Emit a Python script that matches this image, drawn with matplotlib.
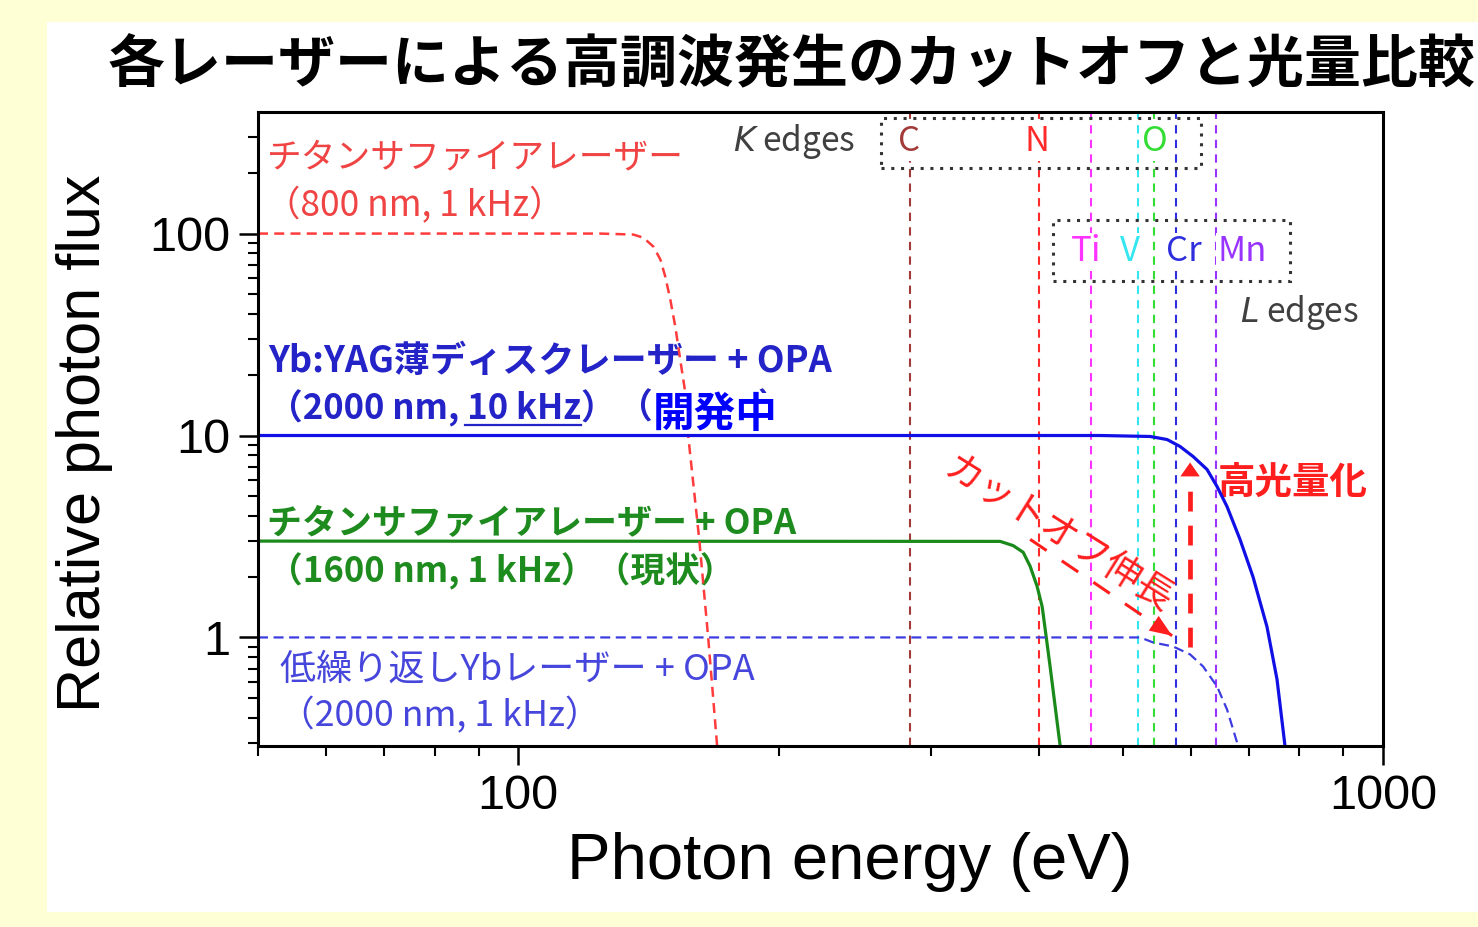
import matplotlib
matplotlib.use('Agg')
import matplotlib.pyplot as plt
from matplotlib.patches import Rectangle
from matplotlib.ticker import FixedLocator, FixedFormatter, NullFormatter

# ---------------- data ----------------
# Ti:Sapphire 800 nm, 1 kHz  (red dashed)
ti_x = [50, 124.4, 135.8, 139.5, 143.3, 146.0, 147.9, 149.9, 151.9, 153.9, 156.0, 157.2, 161.9, 165.8, 169.8]
ti_y = [100, 100, 98.9, 95.5, 86.2, 74.3, 61.2, 47.1, 34.6, 23.8, 16.3, 10, 3.06, 1.0, 0.29]
# Yb:YAG thin disk + OPA 2000 nm, 10 kHz (blue solid)
yb_x = [50, 470.9, 537.9, 562.8, 582.6, 603.1, 625.9, 642.8, 660.1, 683.3, 707.3, 734.2, 754.1, 770.3]
yb_y = [10, 10, 9.89, 9.55, 8.82, 7.87, 6.79, 5.59, 4.45, 3.06, 2.00, 1.13, 0.62, 0.29]
# Ti:Sapphire + OPA 1600 nm, 1 kHz (green solid)
opa_x = [50, 360.8, 373.5, 383.6, 390.8, 398.1, 403.5, 407.8, 412.1, 417.7, 423.3]
opa_y = [3.0, 2.99, 2.85, 2.64, 2.25, 1.79, 1.42, 1.01, 0.718, 0.455, 0.29]
# low-rep Yb + OPA 2000 nm, 1 kHz (blue dashed)
low_x = [50, 523.9, 542.3, 571.8, 598.3, 619.4, 642.8, 660.1, 678.0, 681.7]
low_y = [1, 1, 0.944, 0.902, 0.824, 0.718, 0.572, 0.440, 0.302, 0.29]

# absorption edges
edge_names = ['C', 'N', 'O', 'Ti', 'V', 'Cr', 'Mn']
edge_energy = [284, 400, 543, 460, 521, 576, 641]
edge_colors = ['#A33A3A', '#FF2A2A', '#33DD33', '#FF33FF', '#33E6F0', '#2E2EDD', '#9933FF']

# annotation arrows (data coords: start, tip)
cut_arrow = [(390.8, 3.06), (570.3, 1.02)]
flux_arrow = [(598.3, 0.90), (598.3, 7.35)]

x_ticks = [100, 1000]
x_ticklabels = ['100', '1000']
y_ticks = [1, 10, 100]
y_ticklabels = ['1', '10', '100']

title = '各レーザーによる高調波発生のカットオフと光量比較'

JP = ['Noto Sans CJK JP', 'DejaVu Sans']
plt.rcParams['font.family'] = ['Liberation Sans', 'DejaVu Sans']

W, H = 1478, 927
fig = plt.figure(figsize=(W / 100, H / 100), dpi=100, facecolor='#FFFFD6')
fig.patches.append(Rectangle((47 / W, 1 - 912 / H), 1 - 47 / W, (912 - 22) / H,
                             transform=fig.transFigure, facecolor='white',
                             edgecolor='none', zorder=-1))
ax = fig.add_axes([258 / W, 1 - 746 / H, 1125 / W, 634 / H])
ax.set_facecolor('white')
ax.set_xscale('log')
ax.set_yscale('log')

# vertical edge lines
for e, c in zip(edge_energy, edge_colors):
    ax.axvline(e, color=c, lw=1.5, dashes=(4, 3), zorder=1.5)

ax.plot(yb_x, yb_y, color='#1010E6', lw=2.3, zorder=6)
ax.plot(opa_x, opa_y, color='#1A8A1A', lw=2.3, zorder=2.5)
ax.plot(low_x, low_y, color='#3C3CE0', lw=1.6, dashes=(4.5, 2.5), zorder=2.5)
ax.plot(ti_x, ti_y, color='#FF3B3B', lw=1.8, dashes=(4, 2.5), zorder=4)

ax.set_xlim(50, 1000)
ax.set_ylim(0.29, 400)

# ticks
ax.xaxis.set_major_locator(FixedLocator(x_ticks))
ax.xaxis.set_major_formatter(FixedFormatter(x_ticklabels))
ax.xaxis.set_minor_locator(FixedLocator([50, 60, 70, 80, 90, 200, 300, 400, 500, 600, 700, 800, 900]))
ax.xaxis.set_minor_formatter(NullFormatter())
ax.yaxis.set_major_locator(FixedLocator(y_ticks))
ax.yaxis.set_major_formatter(FixedFormatter(y_ticklabels))
ax.yaxis.set_minor_locator(FixedLocator([0.3, 0.4, 0.5, 0.6, 0.7, 0.8, 0.9,
                                         2, 3, 4, 5, 6, 7, 8, 9,
                                         20, 30, 40, 50, 60, 70, 80, 90, 200, 300]))
ax.yaxis.set_minor_formatter(NullFormatter())
ax.tick_params(which='major', length=14, width=1.8, direction='out', labelsize=35, pad=6)
ax.tick_params(which='minor', length=7, width=1.5, direction='out')
for s in ax.spines.values():
    s.set_linewidth(2.2)
    s.set_zorder(7)

fig.text(850 / W, 1 - 862 / H, 'Photon energy (eV)', fontsize=47, ha='center', va='center')
fig.text(85 / W, 1 - 443 / H, 'Relative photon flux', fontsize=44, ha='center', va='center',
         rotation=90)
fig.text(108 / W, 1 - 65 / H, title, fontfamily=JP, fontweight='bold', fontsize=41,
         ha='left', va='center')


def t(x, y, s, **kw):
    kw.setdefault('fontfamily', JP)
    kw.setdefault('ha', 'left')
    kw.setdefault('va', 'center')
    return ax.text(x, y, s, transform=ax.transAxes, **kw)


red_t = '#F04444'
t(0.008, 0.9274, 'チタンサファイアレーザー', fontsize=25, color=red_t)
t(0.006, 0.8517, '（800 nm, 1 kHz）', fontsize=25.5, color=red_t)

blue_t = '#2323C8'
t(0.009, 0.6057, 'Yb:YAG薄ディスクレーザー + OPA', fontsize=26, color=blue_t, fontweight='bold')
b2 = t(0.009, 0.5331, '（2000 nm, 10 kHz）', fontsize=25, color=blue_t, fontweight='bold')
t(0.3200, 0.5331, '（', fontsize=25, color=blue_t, fontweight='bold')
t(0.4444, 0.5331, '）', fontsize=25, color=blue_t, fontweight='bold')
t(0.4062, 0.5221, '開発中', fontsize=30, color='#0000FF', fontweight='bold', ha='center',
  zorder=5, bbox=dict(facecolor='white', edgecolor='none', pad=0.5))

green_t = '#1E8B1E'
t(0.008, 0.3502, 'チタンサファイアレーザー + OPA', fontsize=25.2, color=green_t, fontweight='bold')
t(0.009, 0.276, '（1600 nm, 1 kHz）（現状）', fontsize=25, color=green_t, fontweight='bold')

lb_t = '#4646DC'
t(0.0196, 0.1199, '低繰り返しYbレーザー + OPA', fontsize=26, color=lb_t)
t(0.019, 0.0473, '（2000 nm, 1 kHz）', fontsize=25.7, color=lb_t)

# underline of "10 kHz"
renderer = fig.canvas.get_renderer()
bb_full = b2.get_window_extent(renderer)
tmp1 = t(0.009, 0.5331, '（2000 nm, 1', fontsize=25, fontweight='bold')
tmp2 = t(0.009, 0.5331, '（2000 nm, 10 kHz', fontsize=25, fontweight='bold')
tmp3 = t(0.009, 0.5331, '1', fontsize=25, fontweight='bold')
w1 = tmp1.get_window_extent(renderer).width
w2 = tmp2.get_window_extent(renderer).width
w3 = tmp3.get_window_extent(renderer).width
for tt in (tmp1, tmp2, tmp3):
    tt.remove()
inv = ax.transAxes.inverted()
xa = inv.transform((bb_full.x0 + w1 - w3 - 2, 0))[0]
xb = inv.transform((bb_full.x0 + w2, 0))[0]
yu = (746 - 425) / 634
ax.plot([xa, xb], [yu, yu], transform=ax.transAxes, color=blue_t, lw=1.6, zorder=3)

# edge labels
edge_lab_pos = {'C': (0.5787, 0.9527), 'N': (0.6924, 0.9527), 'O': (0.7973, 0.9527),
                'Ti': (0.736, 0.7792), 'V': (0.7751, 0.7792), 'Cr': (0.8231, 0.7792),
                'Mn': (0.8747, 0.7792)}
for n, c in zip(edge_names, edge_colors):
    x, y = edge_lab_pos[n]
    t(x, y, n, fontsize=25, color=c, ha='center', zorder=3.5,
      bbox=dict(facecolor='white', edgecolor='none', pad=1.0))

gray = '#404040'
t(0.5307, 0.9527, r'$K$ edges', fontsize=24, color=gray, ha='right')
t(0.8729, 0.6845, r'$L$ edges', fontsize=24, color=gray)

for (x0, y0, x1, y1) in [(0.5538, 0.9117, 0.8382, 0.9905), (0.7067, 0.7334, 0.9173, 0.8297)]:
    ax.add_patch(Rectangle((x0, y0), x1 - x0, y1 - y0, transform=ax.transAxes, fill=False,
                           edgecolor='#333333', lw=2.2, linestyle=(0, (1, 2.2)), zorder=4))

arrow_red = '#FF1E1E'
t(0.7111, 0.3328, 'カットオフ伸長', fontsize=27, color=arrow_red, ha='center',
  rotation=-32, rotation_mode='anchor')
t(0.8533, 0.4164, '高光量化', fontsize=27, color=arrow_red, fontweight='bold')

# diagonal arrow: dashed shaft + solid head
(cx0, cy0), (cx1, cy1) = cut_arrow
ax.plot([cx0, cx1], [cy0, cy1], color=arrow_red, lw=2.2, dashes=(6.5, 6), zorder=4)
ax.annotate('', xy=(cx1, cy1), xytext=(-0.828 * 40, 0.56 * 40), textcoords='offset points',
            arrowprops=dict(arrowstyle='-|>,head_length=0.8,head_width=0.32', color=arrow_red,
                            lw=0, mutation_scale=20, shrinkA=0, shrinkB=0), zorder=4)
# vertical arrow
(vx0, vy0), (vx1, vy1) = flux_arrow
ax.plot([vx0, vx1], [vy0, vy1 * 0.85], color=arrow_red, lw=3.4, dashes=(4.2, 3), zorder=4)
ax.annotate('', xy=(vx1, vy1), xytext=(0, -40), textcoords='offset points',
            arrowprops=dict(arrowstyle='-|>,head_length=0.5,head_width=0.35', color=arrow_red,
                            lw=0, mutation_scale=20, shrinkA=0, shrinkB=0), zorder=4)

fig.savefig('out.png', dpi=100, facecolor=fig.get_facecolor())
